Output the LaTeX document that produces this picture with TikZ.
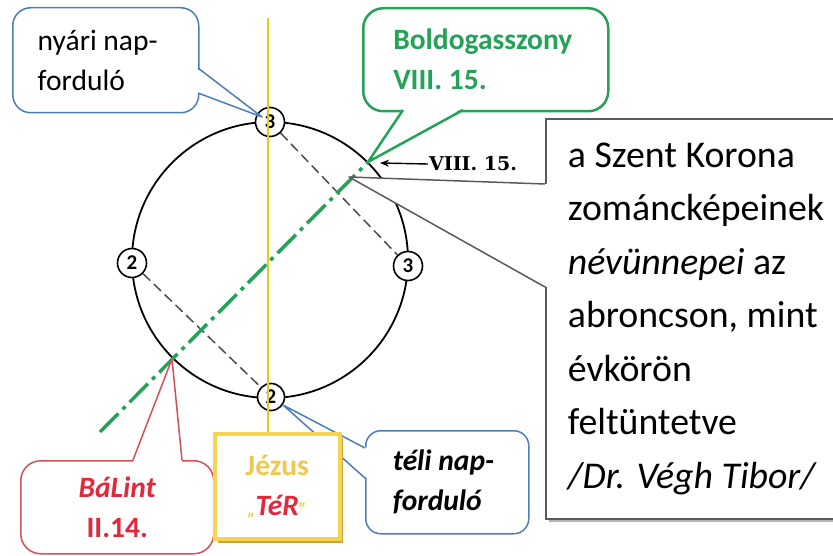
\documentclass[tikz,border=0pt]{standalone}
\usepackage{fontspec}
\setmainfont{Carlito}
\newfontfamily\serifbold{DejaVu Serif}
\usetikzlibrary{arrows.meta,calc,shadows}
\definecolor{cblue}{RGB}{74,126,187}
\definecolor{cgreen}{RGB}{36,162,88}
\definecolor{cred}{RGB}{226,40,58}
\definecolor{cbred}{RGB}{214,80,90}
\definecolor{cyel}{RGB}{242,197,20}
\definecolor{cjbord}{RGB}{246,212,80}
\definecolor{cjshad}{RGB}{200,165,60}
\definecolor{cjtext}{RGB}{240,200,80}
\definecolor{cgray}{RGB}{90,90,90}
\begin{document}
\begin{tikzpicture}[x=1pt,y=-1pt,
  ring/.style={circle,draw=black,line width=1.8pt,minimum size=276pt,inner sep=0pt},
  daynode/.style={circle,draw=black,line width=1.6pt,fill=white,minimum size=29pt,inner sep=0pt,font=\fontsize{21}{21}\selectfont\bfseries},
  diag/.style={draw=black!70,line width=1.5pt,dash pattern=on 10pt off 5pt},
  axisline/.style={draw=cgreen,line width=3.5pt,dash pattern=on 26pt off 6pt on 4pt off 6pt},
  callbox/.style={anchor=north west,rounded corners=18pt,fill=white,inner sep=0pt,font=\fontsize{29.5}{40}\selectfont},
  ptr/.style={line width=1.5pt,line join=round}
]
\useasboundingbox (0,0) rectangle (833,556);

% ring and day markers
\node[ring] (ring) at (270,260) {};
\node[daynode] (top) at (270,122) {3};
\node[daynode] (right) at (408,266) {3};
\node[daynode] (left) at (132,263) {2};
\node[daynode,minimum size=27pt] (bottom) at (271,397) {2};
\draw[diag] (top) -- (right);
\draw[diag] (left) -- (bottom);

% green axis
\coordinate (gStart) at (100,432);
\coordinate (gEnd) at (368,162);
\draw[axisline] (gStart) -- (gEnd);

% right note box
\node[anchor=north west,draw=cgray,line width=1.8pt,fill=white,
  drop shadow={shadow xshift=3pt,shadow yshift=-3pt,fill=black!30,opacity=1},
  minimum width=306pt,minimum height=400pt,text width=262pt,align=flush left,inner sep=0pt,
  font=\fontsize{37.8}{53.5}\selectfont] (note) at (545,118)
  {a Szent Korona\\zománcképeinek\\\textit{névünnepei} az\\abroncson, mint\\évkörön\\feltüntetve\\\textit{/Dr. Végh Tibor/}};
\coordinate (noteA) at (545,184);
\coordinate (noteB) at (545,287);
\coordinate (noteTip) at (349,177);
\fill[white] ($(noteA)+(2,0)$) -- (noteTip) -- ($(noteB)+(2,0)$) -- cycle;
\draw[ptr,draw=cgray] (noteA) -- (noteTip) -- (noteB);

% VIII. 15. label
\node[inner sep=1pt,font=\serifbold\bfseries\fontsize{19}{19}\selectfont] (vlab) at (473,164) {VIII. 15.};
\coordinate (vtip) at (380,163);
\draw[-{Stealth[length=9pt,width=7pt]},line width=1.4pt] (vlab.west) -- (vtip);

% nyári napforduló
\node[callbox,draw=cblue,line width=1.5pt,minimum width=186pt,minimum height=105pt,text width=136pt,align=flush left] (nyari) at (12,7) {nyári nap-\\forduló};
\coordinate (nyA) at (198,68);
\coordinate (nyB) at (198,93);
\coordinate (nyTip) at (262,117);
\fill[white] ($(nyA)+(-2,0)$) -- (nyTip) -- ($(nyB)+(-2,0)$) -- cycle;
\draw[ptr,draw=cblue] (nyA) -- (nyTip) -- (nyB);

% Boldogasszony
\node[callbox,rounded corners=20pt,draw=cgreen,line width=2.5pt,minimum width=245pt,minimum height=103pt,text width=185pt,align=flush left,text=cgreen,font=\fontsize{29.5}{40}\selectfont\bfseries] (boldog) at (362,7) {Boldogasszony\\VIII. 15.};
\coordinate (bgA) at (403,110);
\coordinate (bgB) at (463,110);
\fill[white] ($(bgA)+(0,-2)$) -- (gEnd) -- ($(bgB)+(0,-2)$) -- cycle;
\draw[ptr,draw=cgreen,line width=2.5pt] (bgA) -- (gEnd) -- (bgB);

% Bálint
\node[callbox,rounded corners=20pt,draw=cbred,line width=1.5pt,minimum width=193pt,minimum height=93pt,align=center,text=cred,font=\fontsize{29.5}{40}\selectfont\bfseries] (balint) at (20,460) {\itshape BáLint\\II.14.};
\coordinate (baA) at (133,460);
\coordinate (baB) at (182,460);
\coordinate (baTip) at (172,359);
\fill[white] ($(baA)+(0,2)$) -- (baTip) -- ($(baB)+(0,2)$) -- cycle;
\draw[ptr,draw=cbred] (baA) -- (baTip) -- (baB);

% téli napforduló
\node[callbox,rounded corners=15pt,draw=cblue,line width=1.5pt,minimum width=163pt,minimum height=103pt,text width=109pt,align=flush left,font=\fontsize{29.5}{40}\selectfont\bfseries\itshape] (teli) at (365,430) {téli nap-\\forduló};
\coordinate (tlA) at (365,448);
\coordinate (tlB) at (365,478);
\coordinate (tlTip) at (283,405);
\fill[white] ($(tlA)+(2,0)$) -- (tlTip) -- ($(tlB)+(2,0)$) -- cycle;
\draw[ptr,draw=cblue] (tlA) -- (tlTip) -- (tlB);

% Jézus box
\node[anchor=north west,draw=cjbord,line width=3.5pt,fill=white,
  drop shadow={shadow xshift=3pt,shadow yshift=-4pt,fill=cjshad,opacity=1},
  minimum width=125pt,minimum height=105pt,align=center,inner sep=0pt,
  font=\fontsize{29.5}{40}\selectfont\bfseries] (jezus) at (213,432)
  {\textcolor{cjtext}{Jézus}\\{\color{cjtext}\fontsize{18}{18}\selectfont\itshape „}\textcolor{cred}{\itshape TéR}{\color{cjtext}\fontsize{18}{18}\selectfont\itshape ”}};

% yellow axis
\coordinate (ytop) at (268,18);
\draw[cyel,line width=2.2pt] (ytop) -- (ytop |- jezus.north);
\end{tikzpicture}
\end{document}
